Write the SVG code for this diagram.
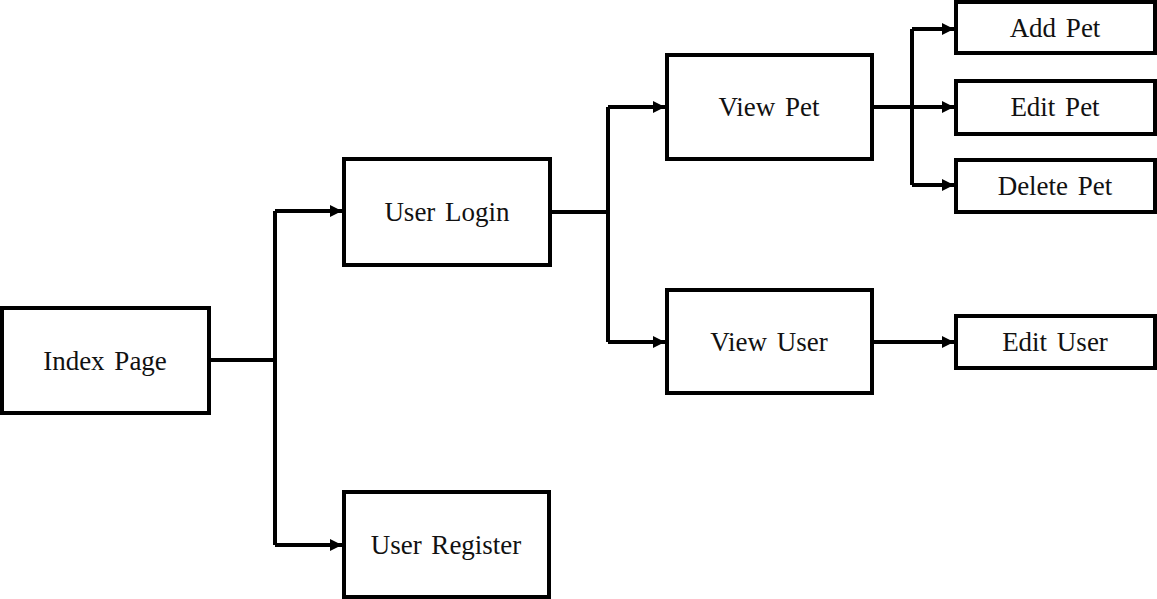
<svg xmlns="http://www.w3.org/2000/svg" width="1157" height="599" viewBox="0 0 1157 599">
<style>
.box{fill:#fff;stroke:#000;stroke-width:4}
.lbl{font-family:"Liberation Serif","Times New Roman",serif;font-size:27px;fill:#111;text-anchor:middle;word-spacing:3px}
.ln{fill:none;stroke:#000;stroke-width:4}
.arr{marker-end:url(#ah)}
</style>
<defs>
<marker id="ah" markerUnits="userSpaceOnUse" markerWidth="14" markerHeight="14" refX="12" refY="7" orient="auto">
<path d="M0,1 L12,7 L0,13 Z" fill="#000"/>
</marker>
</defs>
<rect width="1157" height="599" fill="#fff"/>
<g id="connectors">
<path class="ln" d="M209,360 H275 V211"/>
<path class="ln" d="M275,360 V545"/>
<path class="ln arr" d="M275,211 H342"/>
<path class="ln arr" d="M275,545 H342"/>
<path class="ln" d="M550,212 H608"/>
<path class="ln" d="M608,107 V342"/>
<path class="ln arr" d="M608,107 H665"/>
<path class="ln arr" d="M608,342 H665"/>
<path class="ln arr" d="M872,107 H954"/>
<path class="ln" d="M912,29 V185"/>
<path class="ln arr" d="M912,29 H954"/>
<path class="ln arr" d="M912,185 H954"/>
<path class="ln arr" d="M872,342 H954"/>
</g>
<g id="index"><rect class="box" x="2" y="308" width="207" height="105"/><text class="lbl" x="105" y="370">Index Page</text></g>
<g id="login"><rect class="box" x="344" y="159" width="206" height="106"/><text class="lbl" x="447" y="221">User Login</text></g>
<g id="register"><rect class="box" x="344" y="492" width="205" height="105"/><text class="lbl" x="446" y="554">User Register</text></g>
<g id="viewpet"><rect class="box" x="667" y="55" width="205" height="104"/><text class="lbl" x="769" y="116">View Pet</text></g>
<g id="viewuser"><rect class="box" x="667" y="290" width="205" height="103"/><text class="lbl" x="769" y="351">View User</text></g>
<g id="addpet"><rect class="box" x="956" y="2" width="199" height="51"/><text class="lbl" x="1055" y="37">Add Pet</text></g>
<g id="editpet"><rect class="box" x="956" y="81" width="199" height="53"/><text class="lbl" x="1055" y="116">Edit Pet</text></g>
<g id="deletepet"><rect class="box" x="956" y="160" width="199" height="52"/><text class="lbl" x="1055" y="195">Delete Pet</text></g>
<g id="edituser"><rect class="box" x="956" y="316" width="199" height="52"/><text class="lbl" x="1055" y="351">Edit User</text></g>
</svg>
